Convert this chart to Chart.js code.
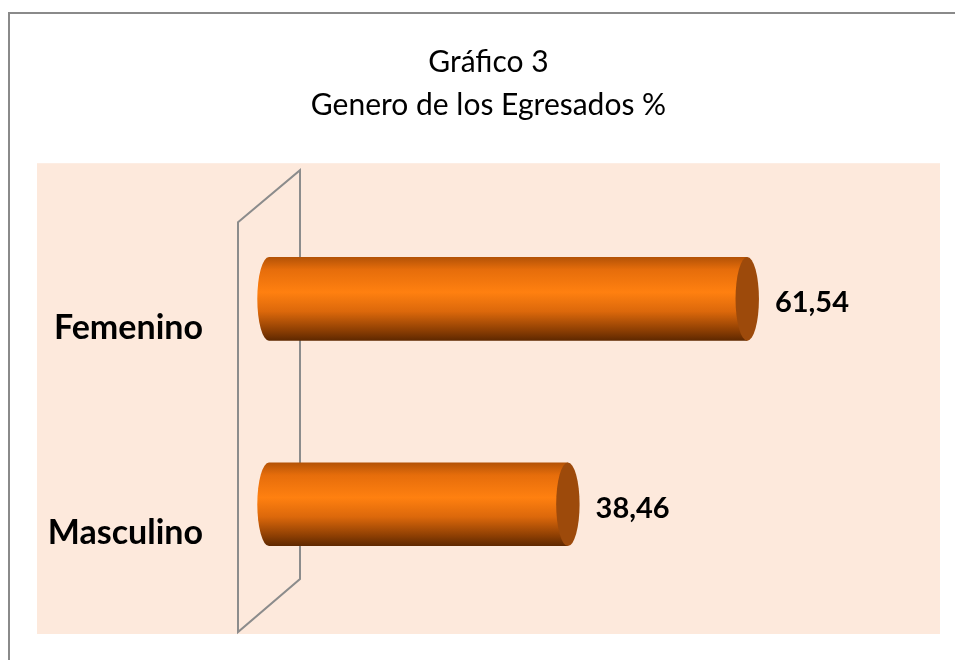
<!DOCTYPE html>
<html>
<head>
<meta charset="utf-8">
<script src="https://cdn.jsdelivr.net/npm/chart.js@4.4.1/dist/chart.umd.min.js"></script>
<style>
  body { margin: 0; background: #fff; }
  #frame { position: absolute; left: 8px; top: 12px; width: 960px; height: 660px;
           border-top: 2px solid #8a8a8a; border-left: 2px solid #8a8a8a; }
  #wrap { position: absolute; left: 0; top: 0; width: 955px; height: 660px; }
</style>
</head>
<body>
<div id="frame"></div>
<div id="wrap"><canvas id="myChart"></canvas></div>
<script>
  // data
  var categories = ['Femenino', 'Masculino'];
  var porcentajes = [61.54, 38.46];
  var titulo = ['Gráfico 3', 'Genero de los Egresados %'];

  var FONT = 'Lato, "Open Sans", sans-serif';

  // fondo durazno + pared 3D detras del eje
  var fondo3d = {
    id: 'fondo3d',
    beforeDraw: function(chart) {
      var c = chart.ctx, a = chart.chartArea;
      var x0 = chart.scales.x.getPixelForValue(0);
      c.save();
      c.fillStyle = '#fde9dc';
      c.fillRect(37, a.top - 33, a.right + 12 - 37, a.bottom - a.top + 60);
      c.strokeStyle = '#8c8c8c';
      c.lineWidth = 2;
      c.beginPath();
      c.moveTo(x0 - 31, a.top + 26);
      c.lineTo(x0 + 31, a.top - 26);
      c.lineTo(x0 + 31, a.bottom - 28);
      c.lineTo(x0 - 31, a.bottom + 25);
      c.closePath();
      c.stroke();
      c.restore();
    }
  };

  // cilindros
  var cilindros = {
    id: 'cilindros',
    afterDatasetsDraw: function(chart) {
      var c = chart.ctx;
      var meta = chart.getDatasetMeta(0);
      meta.data.forEach(function(bar, i) {
        var h = bar.height, top = bar.y - h / 2, rx = h * 0.14, ry = h / 2;
        var g = c.createLinearGradient(0, top, 0, top + h);
        g.addColorStop(0, '#b35206');
        g.addColorStop(0.15, '#e66d0b');
        g.addColorStop(0.42, '#ff8010');
        g.addColorStop(0.65, '#dc680b');
        g.addColorStop(0.88, '#8c3e03');
        g.addColorStop(1, '#5e2800');
        c.save();
        c.fillStyle = g;
        c.beginPath();
        c.ellipse(bar.base, bar.y, rx, ry, 0, Math.PI / 2, Math.PI * 1.5);
        c.lineTo(bar.x, top);
        c.lineTo(bar.x, top + h);
        c.closePath();
        c.fill();
        c.fillStyle = '#9d4a0b';
        c.beginPath();
        c.ellipse(bar.x, bar.y, rx, ry, 0, 0, Math.PI * 2);
        c.fill();
        // etiqueta
        c.fillStyle = '#000';
        c.font = 'bold 29px ' + FONT;
        c.textAlign = 'left';
        c.textBaseline = 'middle';
        c.fillText(porcentajes[i].toFixed(2).replace('.', ','), bar.x + rx + 16, bar.y + 4);
        c.restore();
      });
    }
  };

  var ctx = document.getElementById('myChart').getContext('2d');
  var chart = new Chart(ctx, {
    type: 'bar',
    data: {
      labels: categories,
      datasets: [{
        data: porcentajes,
        backgroundColor: 'rgba(0,0,0,0)',
        borderWidth: 0,
        categoryPercentage: 1,
        barPercentage: 0.407
      }]
    },
    options: {
      indexAxis: 'y',
      responsive: true,
      maintainAspectRatio: false,
      animation: false,
      layout: { padding: { top: 0, left: 49, right: 27, bottom: 53 } },
      plugins: {
        legend: { display: false },
        tooltip: { enabled: false },
        title: {
          display: true,
          text: titulo,
          color: '#000',
          font: { family: FONT, size: 30, weight: 'normal', lineHeight: 1.42 },
          padding: { top: 41, bottom: 70 }
        }
      },
      scales: {
        x: { display: false, min: 0, max: 84.8 },
        y: {
          afterFit: function(s) {
            s.width = 220;
            s.paddingTop = 0;
            s.paddingBottom = 0;
          },
          grid: { display: false, drawTicks: false },
          border: { display: false },
          ticks: {
            color: '#000',
            padding: 66,
            labelOffset: 29,
            font: { family: FONT, size: 34, weight: 'bold' }
          }
        }
      }
    },
    plugins: [fondo3d, cilindros]
  });
</script>
</body>
</html>
